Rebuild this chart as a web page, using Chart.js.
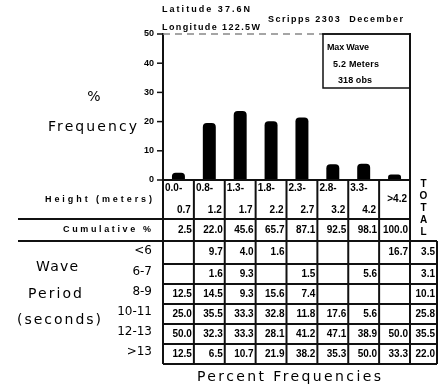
<!DOCTYPE html>
<html>
<head>
<meta charset="utf-8">
<script src="https://cdn.jsdelivr.net/npm/chart.js@4"></script>
<style>
  html, body { margin: 0; padding: 0; background: #fff; }
  canvas { display: block; }
</style>
</head>
<body>
<canvas id="c" width="444" height="389"></canvas>
<script>
// wave height bins (two-line column headers)
const heightTop = ['0.0-', '0.8-', '1.3-', '1.8-', '2.3-', '2.8-', '3.3-', '>4.2'];
const heightBottom = ['0.7', '1.2', '1.7', '2.2', '2.7', '3.2', '4.2', ''];
const heightPct = [2.5, 19.5, 23.6, 20.1, 21.4, 5.4, 5.6, 1.9];
const cumulative = ['2.5', '22.0', '45.6', '65.7', '87.1', '92.5', '98.1', '100.0'];
const yTicks = [0, 10, 20, 30, 40, 50];

const periodLabels = ['<6', '6-7', '8-9', '10-11', '12-13', '>13'];
const periodLt6 = ['', '9.7', '4.0', '1.6', '', '', '', '16.7'];
const period67 = ['', '1.6', '9.3', '', '1.5', '', '5.6', ''];
const period89 = ['12.5', '14.5', '9.3', '15.6', '7.4', '', '', ''];
const period1011 = ['25.0', '35.5', '33.3', '32.8', '11.8', '17.6', '5.6', ''];
const period1213 = ['50.0', '32.3', '33.3', '28.1', '41.2', '47.1', '38.9', '50.0'];
const periodGt13 = ['12.5', '6.5', '10.7', '21.9', '38.2', '35.3', '50.0', '33.3'];
const periodTotals = ['3.5', '3.1', '10.1', '25.8', '35.5', '22.0'];
const periodRows = [periodLt6, period67, period89, period1011, period1213, periodGt13];

const SMALL = "bold 9px 'Liberation Sans'";
const CELL = "bold 10px 'Liberation Sans'";
const BIG = "14px 'DejaVu Sans'";

// draw text; if width is given the text is spread to that width
function txt(ctx, s, x, y, font, align, width) {
    ctx.font = font;
    ctx.textBaseline = 'middle';
    ctx.letterSpacing = '0px';
    if (!width) {
        ctx.textAlign = align;
        ctx.fillText(s, x, y);
        return;
    }
    const w = ctx.measureText(s).width;
    const ls = s.length > 1 ? (width - w) / (s.length - 1) : 0;
    ctx.letterSpacing = ls + 'px';
    ctx.textAlign = 'left';
    let x0 = x;
    if (align === 'right') x0 = x - width;
    if (align === 'center') x0 = x - width / 2;
    ctx.fillText(s, x0, y);
    ctx.letterSpacing = '0px';
}

function line(ctx, x1, y1, x2, y2) {
    ctx.beginPath();
    ctx.moveTo(x1, y1);
    ctx.lineTo(x2, y2);
    ctx.stroke();
}

const tablePlugin = {
    id: 'tablePlugin',
    afterDraw(chart) {
        const ctx = chart.ctx;
        const a = chart.chartArea;
        const xs = chart.scales.x;
        const ys = chart.scales.y;
        const half = (a.right - a.left) / heightPct.length / 2;
        const colL = i => xs.getPixelForValue(i) - half;
        const colR = i => xs.getPixelForValue(i) + half;
        const totalR = a.right + 27;
        // row edges below the axis
        const rows = [a.bottom, a.bottom + 39, a.bottom + 61, a.bottom + 84];
        for (let i = 1; i < periodRows.length; i++) rows.push(rows[rows.length - 1] + 20);
        const mid = (r0, r1) => (r0 + r1) / 2;

        ctx.save();
        ctx.fillStyle = '#000';
        ctx.strokeStyle = '#111';

        // plot frame
        ctx.lineWidth = 2;
        line(ctx, a.left, a.top - 1, a.left, a.bottom);
        line(ctx, a.right, a.top - 1, a.right, rows[rows.length - 1]);
        ctx.lineWidth = 1.5;
        ctx.strokeStyle = '#888';
        ctx.setLineDash([7, 5]);
        line(ctx, a.left, a.top, 322, a.top);
        ctx.setLineDash([]);
        ctx.strokeStyle = '#111';
        line(ctx, 322, a.top, a.right, a.top);

        // y ticks
        ctx.lineWidth = 1.5;
        yTicks.forEach(t => {
            const y = ys.getPixelForValue(t);
            line(ctx, a.left - 6, y, a.left, y);
            txt(ctx, String(t), a.left - 9, y, SMALL, 'right');
        });

        // info box
        ctx.lineWidth = 1.5;
        ctx.strokeRect(323, a.top, a.right - 323, 54);
        txt(ctx, 'Max Wave', 327, 48, SMALL, 'left', 42);
        txt(ctx, '5.2 Meters', 333, 65, SMALL, 'left', 46);
        txt(ctx, '318 obs', 338, 81, SMALL, 'left', 34);

        // header texts
        txt(ctx, 'Latitude 37.6N', 162, 10, SMALL, 'left', 88);
        txt(ctx, 'Longitude 122.5W', 162, 28, SMALL, 'left', 98);
        txt(ctx, 'Scripps 2303  December', 268, 20, SMALL, 'left', 135);

        // left labels
        txt(ctx, '%', 94, 97, BIG, 'center');
        txt(ctx, 'Frequency', 48, 127, BIG, 'left', 89);
        txt(ctx, 'Height (meters)', 152, mid(rows[0], rows[1]), SMALL, 'right', 107);
        txt(ctx, 'Cumulative %', 151, mid(rows[1], rows[2]), SMALL, 'right', 88);
        txt(ctx, 'Wave', 36, 267, BIG, 'left', 42);
        txt(ctx, 'Period', 28, 294, BIG, 'left', 54);
        txt(ctx, '(seconds)', 17, 320, BIG, 'left', 84);
        txt(ctx, 'Percent Frequencies', 289, 377, BIG, 'center', 184);

        // table grid
        ctx.lineWidth = 2;
        line(ctx, a.left - 1, a.bottom, a.right + 1, a.bottom);
        line(ctx, 18, rows[1], a.right, rows[1]);
        line(ctx, 18, rows[2], totalR, rows[2]);
        for (let r = 3; r < rows.length; r++) line(ctx, a.left, rows[r], totalR, rows[r]);
        for (let i = 0; i < heightPct.length; i++) {
            line(ctx, colL(i), a.bottom, colL(i), rows[rows.length - 1]);
        }
        line(ctx, totalR, rows[2], totalR, rows[rows.length - 1]);

        // height headers
        for (let i = 0; i < heightPct.length; i++) {
            if (heightBottom[i]) {
                txt(ctx, heightTop[i], colL(i) + 2, rows[0] + 8, CELL, 'left');
                txt(ctx, heightBottom[i], colR(i) - 3, rows[0] + 30, CELL, 'right');
            } else {
                txt(ctx, heightTop[i], colR(i) - 3, mid(rows[0], rows[1]), CELL, 'right');
            }
            txt(ctx, cumulative[i], colR(i) - 2, mid(rows[1], rows[2]), CELL, 'right');
        }
        'TOTAL'.split('').forEach((ch, k) => {
            txt(ctx, ch, (a.right + totalR) / 2, rows[0] + 4 + k * 12, CELL, 'center');
        });

        // period rows
        periodRows.forEach((vals, r) => {
            const y = mid(rows[r + 2], rows[r + 3]);
            txt(ctx, periodLabels[r], 152, y - 2, "12px 'DejaVu Sans'", 'right');
            vals.forEach((v, i) => {
                if (v) txt(ctx, v, colR(i) - 2, y, CELL, 'right');
            });
            txt(ctx, periodTotals[r], totalR - 2, y, CELL, 'right');
        });
        ctx.restore();
    }
};

new Chart(document.getElementById('c'), {
    type: 'bar',
    data: {
        labels: heightTop,
        datasets: [{
            data: heightPct,
            backgroundColor: '#000',
            borderRadius: { topLeft: 4, topRight: 4 },
            borderSkipped: 'bottom',
            categoryPercentage: 1,
            barPercentage: 0.42
        }]
    },
    options: {
        responsive: false,
        animation: false,
        devicePixelRatio: 1,
        layout: { padding: { left: 163, right: 34, top: 34, bottom: 209 } },
        plugins: { legend: { display: false }, tooltip: { enabled: false } },
        scales: {
            x: { display: false, offset: true },
            y: { display: false, min: 0, max: 50 }
        }
    },
    plugins: [tablePlugin]
});
</script>
</body>
</html>
